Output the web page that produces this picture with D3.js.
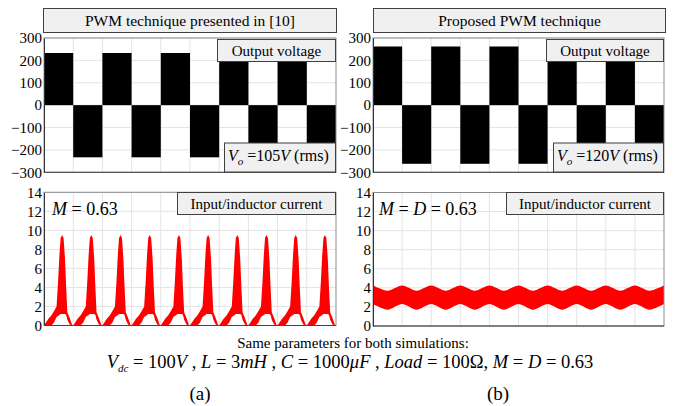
<!DOCTYPE html>
<html><head><meta charset="utf-8">
<script src="https://cdn.jsdelivr.net/npm/d3@7"></script>
<style>
body{margin:0;background:#fff}
svg, svg text{font-family:"Liberation Serif","Times New Roman",Times,"DejaVu Serif",serif}
</style></head><body>
<svg id="fig" width="681" height="406" font-family="Liberation Serif, Times New Roman, serif"></svg>
<script>
// ---- data ----
const voltageTicks = [300, 200, 100, 0, -100, -200, -300];
const currentTicks = [14, 12, 10, 8, 6, 4, 2, 0];
const halfCycles = [0, 1, 2, 3, 4, 5, 6, 7, 8, 9];
// output voltage amplitude for each of the 10 half-cycles shown
const voltageA = [233, -233, 233, -233, 233, -233, 233, -233, 233, -233];
const voltageB = [262, -262, 262, -262, 262, -262, 262, -262, 262, -262];
// input current pulse of the reference PWM, one per half-cycle: phase, min, max
const pulsePhase = [0, 0.15, 0.25, 0.34, 0.43, 0.48, 0.53, 0.57, 0.62, 0.67, 0.72, 0.76, 0.80, 0.88, 0.97, 1.0];
const pulseLow   = [0, 0,    0,    0.3,  0.9,  1.0,  1.1,  1.2,  1.2,  1.2,  1.2,  1.1,  0.6,  0.1,  0,    0];
const pulseHigh  = [0, 0.7,  1.05, 1.5,  2.0,  4.5,  7.5,  9.2,  9.5,  9.2,  7.0,  4.0,  1.4,  0.8,  0,    0];
// proposed PWM: ripple band sampled at every half half-cycle
const currentBPos  = [0,0.5,1,1.5,2,2.5,3,3.5,4,4.5,5,5.5,6,6.5,7,7.5,8,8.5,9,9.5,10];
const currentBHigh = [4.25,3.7,4.25,3.7,4.25,3.7,4.25,3.7,4.25,3.7,4.25,3.7,4.25,3.7,4.25,3.7,4.25,3.7,4.25,3.7,4.25];
const currentBLow  = [2.3,1.7,2.3,1.7,2.3,1.7,2.3,1.7,2.3,1.7,2.3,1.7,2.3,1.7,2.3,1.7,2.3,1.7,2.3,1.7,2.3];

const SERIF = '"Liberation Serif", "Times New Roman", Times, "DejaVu Serif", serif';
const svg = d3.select("#fig");
const gridColor = "#e4e4e4";

function panel(cfg) {
  const x = d3.scaleLinear().domain([0, 10]).range([cfg.x0, cfg.x1]);
  const y = d3.scaleLinear().domain(cfg.domain).range([cfg.yb, cfg.yt]);
  const g = svg.append("g");
  g.append("g").selectAll("line").data(d3.range(1, 10)).join("line")
    .attr("x1", d => x(d)).attr("x2", d => x(d))
    .attr("y1", cfg.yt).attr("y2", cfg.yb)
    .attr("stroke", gridColor).attr("stroke-width", 1);
  g.append("g").selectAll("line").data(cfg.ticks).join("line")
    .attr("x1", cfg.x0).attr("x2", cfg.x1)
    .attr("y1", d => y(d)).attr("y2", d => y(d))
    .attr("stroke", gridColor).attr("stroke-width", 1);
  return {x, y, g};
}

function frame(p, cfg) {
  p.g.append("rect").attr("x", cfg.x0).attr("y", cfg.yt)
    .attr("width", cfg.x1 - cfg.x0).attr("height", cfg.yb - cfg.yt)
    .attr("fill", "none").attr("stroke", "#8a8a8a").attr("stroke-width", 1);
  const ax = p.g.append("g").attr("transform", `translate(${cfg.x0},0)`)
    .call(d3.axisLeft(p.y).tickValues(cfg.ticks).tickSize(0).tickPadding(2));
  ax.attr("font-family", SERIF).attr("font-size", 15);
  ax.select(".domain").attr("stroke", "#333");
  ax.selectAll("text").attr("fill", "#000");
  p.g.append("line").attr("x1", cfg.x0).attr("x2", cfg.x1)
    .attr("y1", cfg.yb).attr("y2", cfg.yb).attr("stroke", "#444");
}

function txt(x, y, size) {
  return svg.append("text").attr("x", x).attr("y", y)
    .attr("font-family", SERIF).attr("font-size", size);
}

function box(x0, y0, x1, y1, text, size) {
  svg.append("rect").attr("x", x0 + 0.5).attr("y", y0 + 0.5)
    .attr("width", x1 - x0).attr("height", y1 - y0)
    .attr("fill", "#f0f0f0").attr("stroke", "#404040").attr("stroke-width", 1);
  if (text) txt((x0 + x1) / 2 + 0.5, (y0 + y1) / 2 + 5.5, size || 15)
    .attr("text-anchor", "middle").text(text);
}

// ---- output voltage panels ----
function voltagePanel(cfg, values) {
  const p = panel(cfg);
  p.g.append("g").selectAll("rect").data(values).join("rect")
    .attr("x", (d, i) => p.x(halfCycles[i]))
    .attr("width", (d, i) => p.x(halfCycles[i] + 1) - p.x(halfCycles[i]))
    .attr("y", d => p.y(Math.max(0, d)))
    .attr("height", d => Math.abs(p.y(d) - p.y(0)))
    .attr("fill", "#000");
  frame(p, cfg);
  return p;
}

const vCfgA = {x0: 44, x1: 336, yt: 38, yb: 172.3, domain: [-300, 300], ticks: voltageTicks};
const vCfgB = {x0: 373, x1: 664, yt: 38, yb: 172.3, domain: [-300, 300], ticks: voltageTicks};
voltagePanel(vCfgA, voltageA);
voltagePanel(vCfgB, voltageB);

// ---- input current panels ----
const cCfgA = {x0: 44, x1: 336, yt: 192.3, yb: 325.5, domain: [0, 14], ticks: currentTicks};
const cCfgB = {x0: 373, x1: 664, yt: 192.5, yb: 326, domain: [0, 14], ticks: currentTicks};

const pA = panel(cCfgA);
const pulsePts = [];
halfCycles.forEach(k => pulsePhase.forEach((ph, j) =>
  pulsePts.push({t: k + ph, lo: pulseLow[j], hi: pulseHigh[j]})));
pA.g.append("path").datum(pulsePts)
  .attr("fill", "#ff0000")
  .attr("d", d3.area().x(d => pA.x(d.t)).y0(d => pA.y(d.lo)).y1(d => pA.y(d.hi)));
frame(pA, cCfgA);

const pB = panel(cCfgB);
const bandPts = currentBPos.map((t, i) => ({t, lo: currentBLow[i], hi: currentBHigh[i]}));
pB.g.append("path").datum(bandPts)
  .attr("fill", "#ff0000")
  .attr("d", d3.area().curve(d3.curveCardinal.tension(0.2))
    .x(d => pB.x(d.t)).y0(d => pB.y(d.lo)).y1(d => pB.y(d.hi)));
frame(pB, cCfgB);

// ---- label boxes ----
box(43, 8, 336, 32, "PWM technique presented in [10]", 15.5);
box(373, 8, 665, 32, "Proposed PWM technique", 15.5);
box(217, 39, 335, 61, "Output voltage", 15);
box(546, 39, 663, 61, "Output voltage", 15);
box(177, 192, 335, 214, "Input/inductor current", 15);
box(506, 192, 663, 214, "Input/inductor current", 15);

function voBox(x0, y0, x1, y1, val) {
  box(x0, y0, x1, y1, null);
  const t = txt(x0 + 4, 161, 16);
  t.append("tspan").attr("font-style", "italic").text("V");
  t.append("tspan").attr("font-style", "italic").attr("font-size", 11).attr("dy", 4).text("o");
  t.append("tspan").attr("dy", -4).text(" =" + val);
  t.append("tspan").attr("font-style", "italic").text("V");
  t.append("tspan").text("  (rms)");
}
voBox(224, 142.5, 335, 171.5, "105");
voBox(553, 142.5, 663, 171.5, "120");

function mLabel(x, parts) {
  const t = txt(x, 215, 18);
  parts.forEach(([s, it]) => t.append("tspan").attr("font-style", it ? "italic" : "normal").text(s));
}
mLabel(52, [["M", 1], [" = 0.63", 0]]);
mLabel(379, [["M", 1], [" = ", 0], ["D", 1], [" = 0.63", 0]]);

// ---- caption ----
txt(353, 347.5, 15).attr("text-anchor", "middle").text("Same parameters for both simulations:");
const cap = txt(350, 368, 18.5).attr("text-anchor", "middle");
[["V", 1], ["dc", 1, "sub"], [" = 100", 0, "up"], ["V", 1], [" , ", 0], ["L", 1], [" = 3", 0], ["mH", 1], [" , ", 0],
 ["C", 1], [" = 1000", 0], ["μF", 1], [" , ", 0], ["Load", 1], [" = 100Ω, ", 0], ["M", 1], [" = ", 0], ["D", 1], [" = 0.63", 0]]
  .forEach(([s, it, pos]) => {
    const ts = cap.append("tspan").attr("font-style", it ? "italic" : "normal").text(s);
    if (pos === "sub") ts.attr("font-size", 11).attr("dy", 4);
    if (pos === "up") ts.attr("dy", -4);
  });
txt(200, 400, 19).attr("text-anchor", "middle").text("(a)");
txt(498, 400, 19).attr("text-anchor", "middle").text("(b)");
</script>
</body></html>
